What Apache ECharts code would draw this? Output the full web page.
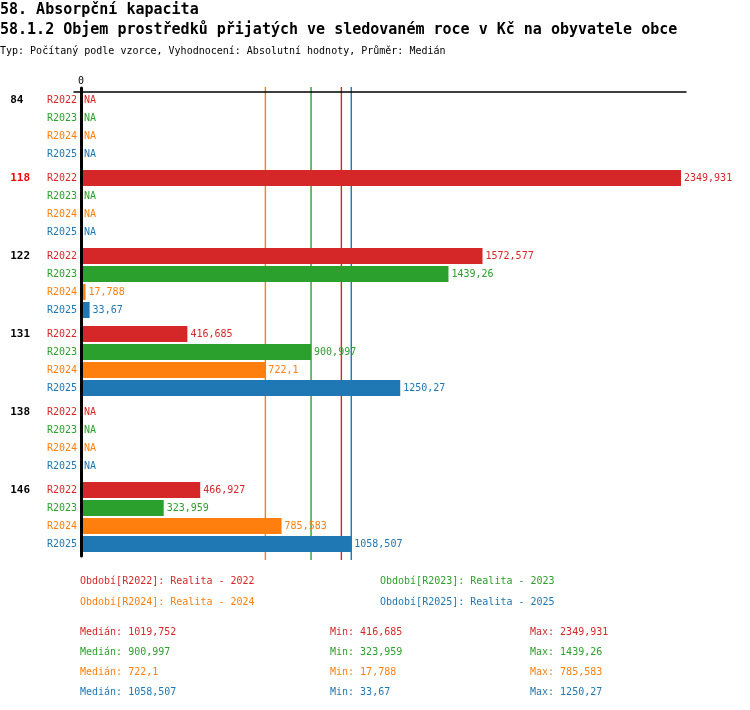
<!DOCTYPE html>
<html><head><meta charset="utf-8">
<script src="https://cdn.jsdelivr.net/npm/echarts@6/dist/echarts.min.js"></script>
<style>html,body{margin:0;padding:0;background:#fff}#c{width:750px;height:710px}</style>
</head><body><div id="c"></div>
<script>
var categories = ['84', '118', '122', '131', '138', '146'];
var periods = ['R2022', 'R2023', 'R2024', 'R2025'];
var periodNames = ['Realita - 2022', 'Realita - 2023', 'Realita - 2024', 'Realita - 2025'];
var colors = ['#d62728', '#2ca02c', '#ff7f0e', '#1f77b4'];
var r2022 = [null, 2349.931, 1572.577, 416.685, null, 466.927];
var r2023 = [null, null, 1439.26, 900.997, null, 323.959];
var r2024 = [null, null, 17.788, 722.1, null, 785.583];
var r2025 = [null, null, 33.67, 1250.27, null, 1058.507];
var seriesValues = [r2022, r2023, r2024, r2025];
var highlightCategory = '118';

var FONT = 'DejaVu Sans Mono';
function fmt(v) { return String(Math.round(v * 1000) / 1000).replace('.', ','); }
function stats(arr) {
  var a = arr.filter(function (v) { return v != null; }).sort(function (x, y) { return x - y; });
  var n = a.length, med = n % 2 ? a[(n - 1) / 2] : (a[n / 2 - 1] + a[n / 2]) / 2;
  return { med: med, min: a[0], max: a[n - 1] };
}

var k = 600 / 2349.931;
var GRID_H = 468;
var series = [];
periods.forEach(function (p, i) {
  var st = stats(seriesValues[i]);
  series.push({
    type: 'line', name: p + '_med', xAxisIndex: 0, yAxisIndex: 1, silent: true, clip: false,
    symbol: 'none', z: 1, animation: false,
    lineStyle: { color: colors[i], width: 1.4, type: 'solid' },
    itemStyle: { color: colors[i] },
    data: [[st.med, -4 / GRID_H], [st.med, 1 + 1 / GRID_H]]
  });
});
periods.forEach(function (p, i) {
  series.push({
    type: 'bar', name: p + '_lbl', stack: 's' + i, barWidth: 16, barGap: '12.5%',
    data: categories.map(function () { return 0; }),
    itemStyle: { color: colors[i] },
    label: { show: true, position: 'left', distance: 4, formatter: p, color: colors[i], fontFamily: FONT, fontSize: 10 },
    silent: true, z: 3
  });
  series.push({
    type: 'bar', name: p, stack: 's' + i, barWidth: 16, barGap: '12.5%',
    data: seriesValues[i].map(function (v) { return v == null ? { value: 0, na: true } : v; }),
    itemStyle: { color: colors[i] },
    label: { show: true, position: 'right', distance: 3, color: colors[i], fontFamily: FONT, fontSize: 10,
      formatter: function (pr) { return (pr.data && pr.data.na) ? 'NA' : fmt(pr.value); } },
    z: 3
  });
});

var graphics = [
  { type: 'text', left: 0, top: 3, style: { text: '58. Absorpční kapacita', font: 'bold 15px ' + FONT, fill: '#000' } },
  { type: 'text', left: 0, top: 23, style: { text: '58.1.2 Objem prostředků přijatých ve sledovaném roce v Kč na obyvatele obce', font: 'bold 15px ' + FONT, fill: '#000' } },
  { type: 'text', left: 0, top: 46, style: { text: 'Typ: Počítaný podle vzorce, Vyhodnocení: Absolutní hodnoty, Průměr: Medián', font: '10px ' + FONT, fill: '#000' } }
];
var legX = [80, 380, 80, 380], legY = [581, 581, 602, 602];
periods.forEach(function (p, i) {
  graphics.push({ type: 'text', x: legX[i], y: legY[i], style: { text: 'Období[' + p + ']: ' + periodNames[i], font: '10px ' + FONT, fill: colors[i], verticalAlign: 'middle' } });
  var st = stats(seriesValues[i]);
  var y = 632 + i * 20;
  graphics.push({ type: 'text', x: 80, y: y, style: { text: 'Medián: ' + fmt(st.med), font: '10px ' + FONT, fill: colors[i], verticalAlign: 'middle' } });
  graphics.push({ type: 'text', x: 330, y: y, style: { text: 'Min: ' + fmt(st.min), font: '10px ' + FONT, fill: colors[i], verticalAlign: 'middle' } });
  graphics.push({ type: 'text', x: 530, y: y, style: { text: 'Max: ' + fmt(st.max), font: '10px ' + FONT, fill: colors[i], verticalAlign: 'middle' } });
});

var chart = echarts.init(document.getElementById('c'), null, { renderer: 'canvas' });
chart.setOption({
  animation: false,
  backgroundColor: '#fff',
  grid: { left: 74, top: 88, width: 612, height: GRID_H, containLabel: false, outerBoundsMode: 'none' },
  xAxis: {
    type: 'value', position: 'top', offset: -4, min: -7 / k, max: 605 / k, z: 10,
    axisLine: { show: true, onZero: false, lineStyle: { color: '#000', width: 1.5 } },
    axisTick: { show: false },
    splitLine: { show: false },
    axisLabel: { customValues: [0], formatter: function (v) { return Math.abs(v) < 1e-9 ? '0' : ''; }, color: '#000', fontFamily: FONT, fontSize: 10, margin: 6 }
  },
  yAxis: [{
    type: 'category', inverse: true, z: 10,
    data: categories.map(function (c) { return { value: c, textStyle: { color: c === highlightCategory ? '#ff0000' : '#000' } }; }),
    axisLine: { show: true, onZero: true, lineStyle: { color: '#000', width: 3 } },
    axisTick: { show: false },
    axisLabel: { margin: 44, fontFamily: FONT, fontWeight: 'bold', fontSize: 11, lineHeight: 18, verticalAlign: 'middle',
      formatter: function (v) { var s = String(v); while (s.length < 3) s += ' '; return s + '\n \n \n '; } }
  }, {
    type: 'value', show: false, min: 0, max: 1, splitLine: { show: false }
  }],
  series: series,
  graphic: graphics
});
</script></body></html>
